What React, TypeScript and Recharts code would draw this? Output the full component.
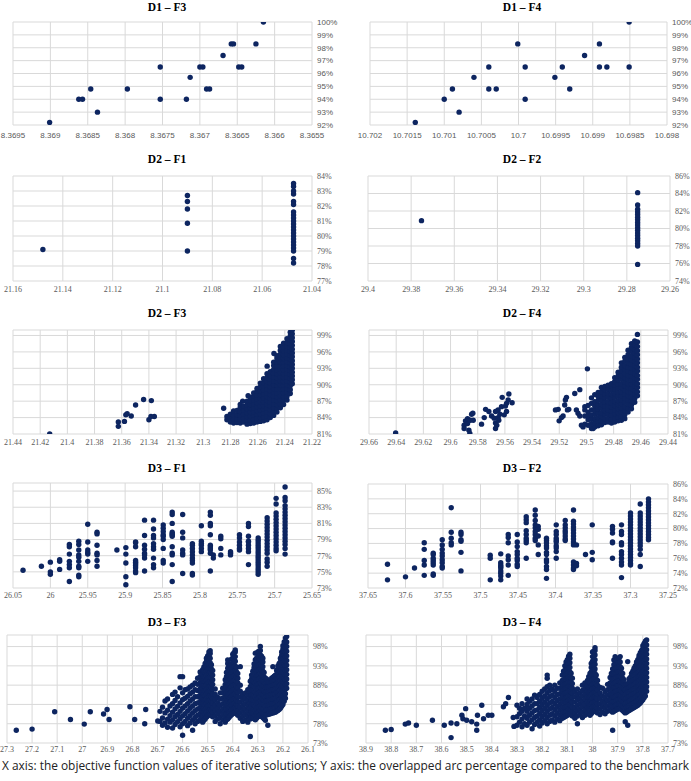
import React from 'react';
import { ScatterChart, Scatter, XAxis, YAxis, CartesianGrid } from 'recharts';

type Pt = [number, number];
type Col = [number, number[]];

// ---- D1 – F3 ----
const d1f3Points: Pt[] = [
  [8.36901, 92.2], [8.36862, 94.0], [8.36857, 94.0], [8.36846, 94.8], [8.36837, 93.0],
  [8.36797, 94.8], [8.36753, 96.5], [8.36753, 94.0], [8.36718, 94.0], [8.36713, 95.7],
  [8.367, 96.5], [8.36696, 96.5], [8.36691, 94.8], [8.36687, 94.8], [8.36669, 97.4],
  [8.36658, 98.3], [8.36655, 98.3], [8.36648, 96.5], [8.36644, 96.5], [8.36625, 98.3],
  [8.36615, 100],
];
const d1f3XTicks = [8.3695, 8.369, 8.3685, 8.368, 8.3675, 8.367, 8.3665, 8.366, 8.3655];
const d1YTicks = [92, 93, 94, 95, 96, 97, 98, 99, 100];

// ---- D1 – F4 ----
const d1f4Points: Pt[] = [
  [10.70139, 92.2], [10.701, 94.0], [10.70089, 94.8], [10.7008, 93.0], [10.7006, 95.7],
  [10.7004, 96.5], [10.7004, 94.8], [10.7003, 94.8], [10.70001, 98.3], [10.69991, 96.5],
  [10.69991, 94.0], [10.69951, 95.7], [10.69941, 96.5], [10.69931, 94.8], [10.69911, 97.4],
  [10.69891, 98.3], [10.69891, 96.5], [10.69881, 96.5], [10.69851, 100], [10.69851, 96.5],
];
const d1f4XTicks = [10.702, 10.7015, 10.701, 10.7005, 10.7, 10.6995, 10.699, 10.6985, 10.698];

// ---- D2 – F1 ----
const d2f1Points: Pt[] = [
  [21.148, 79.1], [21.09, 82.7], [21.09, 82.3], [21.09, 81.8], [21.09, 80.85], [21.09, 79.0],
];
const d2f1Cols: Col[] = [
  [21.0474, [83.5, 83.3, 83.0, 82.8, 82.3, 82.1, 81.6, 81.4, 81.2, 81.0, 80.8, 80.6, 80.4,
    80.2, 80.0, 79.8, 79.6, 79.4, 79.2, 79.0, 78.5, 78.2]],
];
const d2f1XTicks = [21.16, 21.14, 21.12, 21.1, 21.08, 21.06, 21.04];
const d2f1YTicks = [77, 78, 79, 80, 81, 82, 83, 84];

// ---- D2 – F2 ----
const d2f2Points: Pt[] = [[29.3752, 80.9]];
const d2f2Cols: Col[] = [
  [29.275, [84.1, 82.7, 82.2, 81.9, 81.6, 81.3, 81.0, 80.7, 80.4, 80.1, 79.8, 79.5, 79.2,
    78.9, 78.6, 78.3, 78.0, 75.9]],
];
const d2f2XTicks = [29.4, 29.38, 29.36, 29.34, 29.32, 29.3, 29.28, 29.26];
const d2f2YTicks = [74, 76, 78, 80, 82, 84, 86];

// ---- D2 – F3 ----
const d2f3Points: Pt[] = [
  [21.413, 81.0], [21.3625, 83.2], [21.3625, 82.4], [21.358, 83.3], [21.357, 84.5],
  [21.356, 84.7], [21.353, 84.3], [21.3498, 86.3], [21.3439, 87.3], [21.34, 83.6],
  [21.3385, 84.2], [21.3382, 87.1], [21.336, 84.2], [21.285, 85.7], [21.271, 87.0],
  [21.267, 88.0], [21.253, 93.4], [21.248, 95.7],
];
const d2f3Cols: Col[] = [
  [21.2826, [83.6, 84.2]],
  [21.2801, [83.2, 83.9, 84.6]],
  [21.2777, [83.0, 83.7, 84.4, 85.2]],
  [21.2752, [83.1, 83.8, 84.5, 85.3]],
  [21.2728, [83.0, 83.7, 84.4, 85.1, 85.9, 86.4]],
  [21.2703, [83.2, 83.9, 84.6, 85.4, 86.1]],
  [21.2678, [82.8, 83.5, 84.2, 84.9, 85.6, 86.3, 87.0]],
  [21.2654, [82.9, 83.6, 84.3, 85.0, 85.7, 86.4, 87.1, 87.7]],
  [21.2629, [83.0, 83.7, 84.4, 85.1, 85.8, 86.5, 87.2, 87.9, 88.5]],
  [21.2605, [83.2, 83.9, 84.6, 85.3, 86.0, 86.7, 87.4, 88.1, 88.8, 89.3]],
  [21.258, [83.3, 84.0, 84.7, 85.4, 86.1, 86.8, 87.5, 88.2, 88.9, 89.6, 90.3]],
  [21.2556, [83.4, 84.1, 84.8, 85.5, 86.2, 86.9, 87.6, 88.3, 89.0, 89.7, 90.4, 91.1]],
  [21.2531, [83.6, 84.3, 85.0, 85.7, 86.4, 87.1, 87.8, 88.5, 89.2, 89.9, 90.6, 91.3, 92.0]],
  [21.2507, [84.0, 84.7, 85.4, 86.1, 86.8, 87.5, 88.2, 88.9, 89.6, 90.3, 91.0, 91.7, 92.4]],
  [21.2482, [84.4, 85.1, 85.8, 86.5, 87.2, 87.9, 88.6, 89.3, 90.0, 90.7, 91.4, 92.1, 92.8, 93.5, 94.1]],
  [21.2458, [85.0, 85.7, 86.4, 87.1, 87.8, 88.5, 89.2, 89.9, 90.6, 91.3, 92.0, 92.7, 93.4, 94.1, 94.8, 95.3]],
  [21.2433, [85.8, 86.5, 87.2, 87.9, 88.6, 89.3, 90.0, 90.7, 91.4, 92.1, 92.8, 93.5, 94.2, 94.9, 95.6, 96.3, 97.0]],
  [21.2409, [86.4, 87.1, 87.8, 88.5, 89.2, 89.9, 90.6, 91.3, 92.0, 92.7, 93.4, 94.1, 94.8, 95.5, 96.2, 96.9, 97.6]],
  [21.2384, [87.2, 87.9, 88.6, 89.3, 90.0, 90.7, 91.4, 92.1, 92.8, 93.5, 94.2, 94.9, 95.6, 96.3, 97.0, 97.7, 98.4]],
  [21.236, [88.4, 89.1, 89.8, 90.5, 91.2, 91.9, 92.6, 93.3, 94.0, 94.7, 95.4, 96.1, 96.8, 97.5, 98.2, 98.9, 99.6]],
  [21.2345, [90.2, 90.9, 91.6, 92.3, 93.0, 93.7, 94.4, 95.1, 95.8, 96.5, 97.2, 97.9, 98.6, 99.3, 100.0]],
];
const d2f3XTicks = [21.44, 21.42, 21.4, 21.38, 21.36, 21.34, 21.32, 21.3, 21.28, 21.26, 21.24, 21.22];
const d2YTicks = [81, 84, 87, 90, 93, 96, 99];

// ---- D2 – F4 ----
const d2f4Points: Pt[] = [
  [29.6404, 81.2],
  [29.59, 82.6], [29.59, 82.0], [29.589, 83.4], [29.5875, 82.9], [29.5875, 83.8], [29.5865, 81.7],
  [29.5858, 81.1], [29.5855, 83.5], [29.5845, 84.6], [29.5833, 83.5], [29.5836, 84.8],
  [29.5772, 82.8], [29.5752, 84.0], [29.5742, 85.5], [29.5718, 85.1], [29.5698, 84.3],
  [29.5679, 83.9], [29.5669, 83.0], [29.5669, 82.0], [29.566, 82.6], [29.5669, 85.1],
  [29.565, 85.4], [29.565, 84.0], [29.5637, 84.6], [29.5625, 86.0], [29.562, 87.7],
  [29.5605, 84.5], [29.5596, 86.1], [29.5588, 86.6], [29.5588, 85.1], [29.5576, 87.2],
  [29.5571, 88.3], [29.5547, 86.7], [29.5645, 83.5],
  [29.5228, 85.4], [29.5208, 85.5], [29.5201, 83.4], [29.5184, 84.0], [29.5172, 84.3],
  [29.516, 86.3], [29.5155, 87.2], [29.5147, 87.7], [29.514, 85.4], [29.513, 85.5],
  [29.5086, 88.4], [29.5074, 85.4], [29.5062, 84.8], [29.5049, 89.1], [29.5049, 84.3],
  [29.5037, 82.6], [29.5025, 82.3], [29.4993, 92.9], [29.4951, 82.0],
];
const d2f4Cols: Col[] = [
  [29.5012, [82.8, 84.3, 85.4, 86.0]],
  [29.4988, [82.6, 83.6, 84.2, 85.0, 86.2]],
  [29.4963, [82.0, 82.9, 83.7, 84.5, 85.4, 86.6, 87.6]],
  [29.4939, [82.3, 83.0, 83.8, 84.6, 85.3, 86.1, 86.9, 88.2]],
  [29.4914, [82.5, 83.3, 84.0, 84.8, 85.5, 86.3, 87.1, 87.8, 88.6]],
  [29.489, [82.7, 83.4, 84.2, 84.9, 85.7, 86.4, 87.2, 87.9, 88.7, 89.5]],
  [29.4865, [83.1, 83.8, 84.6, 85.3, 86.1, 86.8, 87.6, 88.3, 89.1, 89.7]],
  [29.4841, [83.2, 83.9, 84.7, 85.4, 86.2, 86.9, 87.7, 88.4, 89.2, 89.9]],
  [29.4816, [83.0, 83.7, 84.5, 85.2, 86.0, 86.7, 87.5, 88.2, 89.0, 89.7, 90.2]],
  [29.4792, [83.2, 83.9, 84.7, 85.4, 86.2, 86.9, 87.7, 88.4, 89.2, 89.9, 90.6, 91.3]],
  [29.4767, [83.4, 84.1, 84.9, 85.6, 86.4, 87.1, 87.9, 88.6, 89.4, 90.1, 90.9, 91.6, 92.3]],
  [29.4743, [83.5, 84.2, 85.0, 85.7, 86.5, 87.2, 88.0, 88.7, 89.5, 90.2, 91.0, 91.7, 92.5, 93.2, 94.0]],
  [29.4718, [83.8, 84.5, 85.3, 86.0, 86.8, 87.5, 88.3, 89.0, 89.8, 90.5, 91.3, 92.0, 92.8, 93.5, 94.3, 95.0]],
  [29.4694, [85.0, 85.7, 86.5, 87.2, 88.0, 88.7, 89.5, 90.2, 91.0, 91.7, 92.5, 93.2, 94.0, 94.7, 95.5, 96.3]],
  [29.4669, [85.6, 86.3, 87.1, 87.8, 88.6, 89.3, 90.1, 90.8, 91.6, 92.3, 93.1, 93.8, 94.6, 95.3, 96.1, 96.8, 97.5]],
  [29.4645, [86.8, 87.5, 88.3, 89.0, 89.8, 90.5, 91.3, 92.0, 92.8, 93.5, 94.3, 95.0, 95.8, 96.5, 97.3, 98.0]],
  [29.4625, [88.0, 88.7, 89.5, 90.2, 91.0, 91.7, 92.5, 93.2, 94.0, 94.7, 95.5, 96.2, 97.0, 97.8, 99.2]],
];
const d2f4XTicks = [29.66, 29.64, 29.62, 29.6, 29.58, 29.56, 29.54, 29.52, 29.5, 29.48, 29.46, 29.44];

// ---- D3 – F1 ----
const d3f1Cols: Col[] = [
  [26.0366, [75.2]],
  [26.012, [75.7]],
  [26.0, [76.2, 75.0, 74.7]],
  [25.9876, [76.5, 76.3, 75.3]],
  [25.9746, [78.4, 78.1, 77.2, 76.3, 75.9, 75.5, 73.8]],
  [25.962, [78.8, 78.4, 77.7, 77.1, 76.8, 76.3, 75.7, 75.5, 74.6, 74.4]],
  [25.95, [80.9, 78.7, 77.7, 77.4, 77.2, 76.3]],
  [25.9376, [79.9, 79.7, 78.3, 77.3, 77.1, 76.4, 75.7]],
  [25.911, [77.7]],
  [25.899, [78.0, 77.2, 76.1, 74.4, 73.4]],
  [25.886, [78.7, 78.6, 78.1, 76.4, 76.2, 76.0, 75.8, 75.5, 75.1, 74.9]],
  [25.874, [81.4, 79.5, 78.3, 77.8, 77.3, 77.1, 76.7, 75.1]],
  [25.862, [81.4, 80.3, 79.5, 79.2, 78.5, 78.1, 77.8, 76.7, 75.9, 75.5]],
  [25.849, [80.8, 80.4, 80.0, 79.6, 79.4, 79.0, 77.9, 76.4, 76.1]],
  [25.837, [82.4, 82.1, 81.0, 79.9, 79.7, 79.6, 79.4, 78.1, 77.3, 77.1, 75.9, 73.8]],
  [25.823, [82.1, 79.9, 79.2, 77.7, 77.3, 77.1, 74.8]],
  [25.81, [78.5, 78.3, 77.9, 77.5, 77.1, 76.7, 76.4, 76.1, 74.8, 74.6]],
  [25.798, [80.7, 78.8, 78.5, 78.3, 77.9, 77.5]],
  [25.786, [82.4, 82.0, 81.0, 80.7, 79.6, 78.3, 78.1, 77.9, 77.7, 77.3, 75.1]],
  [25.782, [77.1, 76.7]],
  [25.772, [79.4, 79.1, 77.9, 77.1]],
  [25.759, [77.5, 77.3, 77.1]],
  [25.747, [79.6, 79.2, 78.7, 78.3, 77.9, 77.7]],
  [25.735, [81.0, 80.6, 79.4, 78.8, 78.7, 78.3, 77.9, 77.5, 75.9]],
  [25.722, [79.2, 78.9, 78.6, 78.3, 78.0, 77.7, 77.4, 77.1, 76.8, 76.5, 76.2, 75.9, 75.6, 75.3, 75.0, 74.7]],
  [25.71, [81.7, 81.3, 80.9, 80.5, 80.1, 79.7, 79.3, 78.9, 78.5, 78.1, 77.7, 77.3, 76.6, 76.2, 75.7]],
  [25.698, [84.1, 83.4, 82.3, 81.9, 81.5, 81.1, 80.7, 80.3, 79.9, 79.5, 79.1, 78.7, 78.3, 77.9, 77.6]],
  [25.686, [85.5, 84.2, 83.8, 83.2, 82.8, 82.4, 82.0, 81.6, 81.2, 80.8, 80.4, 80.0, 79.6, 79.2,
    78.8, 78.4, 77.9, 77.2]],
];
const d3f1XTicks = [26.05, 26, 25.95, 25.9, 25.85, 25.8, 25.75, 25.7, 25.65];
const d3f1YTicks = [73, 75, 77, 79, 81, 83, 85];

// ---- D3 – F2 ----
const d3f2Cols: Col[] = [
  [37.624, [75.2, 73.1]],
  [37.6, [73.5]],
  [37.588, [74.7]],
  [37.575, [78.1, 77.2, 75.7, 75.1, 73.7]],
  [37.563, [76.7, 76.5, 76.0, 75.7, 75.4, 75.1, 73.9, 73.7]],
  [37.551, [78.5, 77.8, 77.2, 76.7, 76.3, 75.8, 75.4, 74.9, 74.7]],
  [37.539, [82.8, 79.5, 78.7, 78.1, 77.8]],
  [37.526, [79.5, 79.2, 78.5, 78.3, 76.8, 74.3]],
  [37.487, [76.4, 76.0, 73.1]],
  [37.473, [76.6, 75.4, 75.1, 74.9, 74.7, 74.3, 74.0, 73.6, 73.1]],
  [37.463, [79.2, 78.8, 78.1, 76.3, 75.8, 75.1, 73.7]],
  [37.451, [79.2, 78.2, 77.6, 76.9, 76.5, 76.0, 75.7, 75.2, 74.9]],
  [37.439, [81.6, 81.2, 80.8, 79.7, 79.2, 78.7, 78.4, 78.1, 76.0]],
  [37.427, [82.5, 81.8, 81.1, 80.5, 80.1, 79.6, 79.2, 78.7, 78.4]],
  [37.423, [80.3, 79.9, 79.0, 77.8, 76.5]],
  [37.412, [78.7, 78.4, 78.1, 77.7, 77.4, 76.8, 76.5, 75.8, 75.5, 74.9, 74.5, 73.3]],
  [37.399, [80.5, 79.6, 79.2, 78.7, 78.4, 78.2, 77.7, 77.4, 76.9, 76.0]],
  [37.387, [81.1, 80.5, 80.1, 79.7, 79.4, 79.0, 78.6, 78.4]],
  [37.376, [82.5, 81.0, 80.6, 80.2, 79.8, 79.4, 79.0, 78.6, 78.2, 77.8, 75.5, 75.1, 74.7, 74.5]],
  [37.372, [77.8, 75.3, 75.0]],
  [37.36, [76.5]],
  [37.351, [80.5, 76.8, 75.8]],
  [37.324, [80.3, 79.9, 79.4, 78.2, 78.1, 76.0]],
  [37.312, [80.5, 79.6, 79.2, 78.1, 77.8, 76.9, 76.5, 76.0, 75.5, 75.1, 73.4]],
  [37.3, [82.1, 81.7, 81.3, 80.9, 80.5, 80.1, 79.7, 79.3, 78.9, 78.5, 78.1, 77.7, 77.3, 76.9,
    76.5, 76.1, 75.7, 75.3, 75.1]],
  [37.287, [83.3, 82.1, 81.7, 81.3, 80.9, 80.5, 80.1, 79.7, 79.3, 78.9, 78.5, 78.1, 77.7, 77.2,
    76.5, 74.9]],
  [37.276, [84.0, 83.6, 83.2, 82.8, 82.4, 82.0, 81.6, 81.2, 80.8, 80.4, 80.0, 79.6, 79.2, 78.8, 78.5]],
];
const d3f2XTicks = [37.65, 37.6, 37.55, 37.5, 37.45, 37.4, 37.35, 37.3, 37.25];
const d3f2YTicks = [72, 74, 76, 78, 80, 82, 84, 86];

// ---- D3 – F3 ----
const d3f3Points: Pt[] = [
  [27.263, 76.3], [27.2, 76.6], [27.11, 81.1], [27.047, 79.1], [26.992, 77.9], [26.968, 81.1],
  [26.915, 80.5], [26.901, 81.7], [26.893, 79.1], [26.81, 82.4], [26.791, 79.1], [26.751, 78.0],
  [26.747, 81.7], [26.699, 78.7],
];
const d3f3Cols: Col[] = [
  [26.69, [78.6, 81.2]],
  [26.68, [77.6, 79.5, 82.3]],
  [26.67, [78.2, 80.8, 83.9]],
  [26.66, [77.1, 79.2, 81.5, 84.4]],
  [26.65, [78.4, 80.1, 82.6]],
  [26.64, [76.9, 79.0, 81.0, 83.2, 85.6]],
  [26.63, [77.8, 79.8, 81.8, 84.0, 86.2]],
  [26.62, [78.5, 80.4, 82.5, 85.0]],
  [26.61, [77.2, 79.3, 81.2, 83.4, 87.3, 90.2]],
  [26.6, [75.0, 78.0, 80.0, 82.0, 84.2, 86.0, 90.2]],
  [26.59, [78.6, 80.6, 82.6, 84.6, 86.8]],
  [26.58, [77.5, 79.4, 81.3, 83.2, 85.1, 87.0]],
  [26.57, [78.2, 80.1, 82.0, 83.9, 85.8, 87.5]],
  [26.56, [76.3, 79.0, 80.8, 82.6, 84.4, 86.2, 88.0]],
  [26.55, [78.0, 79.6, 81.4, 83.2, 85.0, 86.8, 88.6]],
  [26.54, [78.6, 80.2, 81.8, 83.4, 85.0, 86.6, 88.2, 89.8]],
  [26.53, [79.0, 80.6, 82.2, 83.8, 85.4, 87.0, 88.6, 90.2, 91.4]],
  [26.525, [79.6, 81.4, 83.0, 84.6, 86.2, 87.8, 89.4, 90.8]],
  [26.52, [78.4, 80.0, 81.2, 82.4, 83.6, 84.8, 86.0, 87.2, 88.4, 89.6, 90.8, 92.0]],
  [26.515, [78.9, 80.9, 82.1, 83.1, 84.3, 85.5, 86.7, 87.9, 89.1, 90.3, 91.5, 92.7]],
  [26.51, [79.2, 80.4, 81.6, 82.8, 84.0, 85.2, 86.4, 87.6, 88.8, 90.0, 91.2, 92.4, 93.6]],
  [26.505, [79.7, 81.0, 82.1, 83.3, 84.5, 85.7, 86.9, 88.1, 89.3, 90.5, 91.7, 92.9, 94.1, 95.0]],
  [26.5, [80.0, 81.2, 82.4, 83.6, 84.8, 86.0, 87.2, 88.4, 89.6, 90.8, 92.0, 93.2, 94.4, 95.6]],
  [26.495, [80.3, 81.5, 82.7, 83.9, 85.1, 86.3, 87.5, 88.7, 89.9, 91.1, 92.3, 93.5, 94.7, 95.9, 96.6]],
  [26.49, [80.6, 81.8, 83.0, 84.2, 85.4, 86.6, 87.8, 89.0, 90.2, 91.4, 92.6, 93.8, 95.0, 96.2, 96.9]],
  [26.485, [80.2, 81.4, 82.6, 83.8, 85.0, 86.2, 87.4, 88.6, 89.8, 91.0, 92.2, 93.3]],
  [26.48, [79.8, 81.0, 82.2, 83.4, 84.6, 85.8, 87.0, 88.2, 89.4, 90.6, 91.8]],
  [26.47, [78.6, 80.0, 81.4, 82.8, 84.2, 85.6, 87.0]],
  [26.46, [79.2, 80.6, 82.0, 83.4, 84.8]],
  [26.45, [78.0, 79.6, 81.2, 82.8, 84.4, 86.0]],
  [26.44, [79.0, 80.4, 81.8, 83.2, 84.6, 86.0, 87.2]],
  [26.43, [78.4, 79.8, 81.2, 82.6, 84.0, 85.4, 86.8, 88.2, 89.4]],
  [26.425, [79.0, 80.5, 81.9, 83.3, 84.7, 86.1, 87.5, 88.9, 90.2, 91.3]],
  [26.42, [79.2, 80.4, 81.6, 82.8, 84.0, 85.2, 86.4, 87.6, 88.8, 90.0, 91.2, 92.4, 93.6, 94.5]],
  [26.415, [79.6, 80.9, 82.1, 83.3, 84.5, 85.7, 86.9, 88.1, 89.3, 90.5, 91.7, 92.9]],
  [26.41, [80.0, 81.2, 82.4, 83.6, 84.8, 86.0, 87.2, 88.4, 89.6, 90.8, 92.0, 93.0]],
  [26.405, [80.3, 81.5, 82.7, 83.9, 85.1, 86.3, 87.5, 88.7, 89.9, 91.1, 92.3, 93.5, 94.7]],
  [26.4, [80.6, 81.8, 83.0, 84.2, 85.4, 86.6, 87.8, 89.0, 90.2, 91.4, 92.6, 93.8, 95.0, 96.0]],
  [26.395, [80.8, 82.0, 83.2, 84.4, 85.6, 86.8, 88.0, 89.2, 90.4, 91.6, 92.8, 94.0, 95.2, 96.4]],
  [26.39, [81.0, 82.2, 83.4, 84.6, 85.8, 87.0, 88.2, 89.4, 90.6, 91.8, 93.0, 94.2, 95.4, 96.6, 97.1]],
  [26.385, [80.6, 81.8, 83.0, 84.2, 85.4, 86.6, 87.8, 89.0, 90.2, 91.4, 92.6]],
  [26.38, [80.2, 81.4, 82.6, 83.8, 85.0, 86.2, 87.4, 88.6, 89.8, 91.0]],
  [26.37, [79.4, 80.8, 82.2, 83.6, 85.0, 86.4, 88.0, 92.8]],
  [26.36, [78.6, 80.0, 81.4, 82.8, 84.2, 85.6]],
  [26.35, [79.0, 80.4, 81.8, 83.2, 84.6, 86.0]],
  [26.34, [78.4, 79.8, 81.2, 82.6, 84.0, 85.4, 86.8]],
  [26.33, [74.7, 79.2, 80.6, 82.0, 83.4, 84.8, 86.2, 87.6, 89.0]],
  [26.325, [79.8, 81.2, 82.6, 84.0, 85.4, 86.8, 88.2, 89.6, 90.6]],
  [26.32, [79.6, 80.8, 82.0, 83.2, 84.4, 85.6, 86.8, 88.0, 89.2, 90.4, 91.6]],
  [26.315, [79.3, 80.5, 81.7, 82.9, 84.1, 85.3, 86.5, 87.7, 88.9, 90.1, 91.3, 92.5, 93.5]],
  [26.31, [79.0, 80.2, 81.4, 82.6, 83.8, 85.0, 86.2, 87.4, 88.6, 89.8, 91.0, 92.2, 93.4, 94.6, 96.3]],
  [26.305, [79.4, 80.6, 81.8, 83.0, 84.2, 85.4, 86.6, 87.8, 89.0, 90.2, 91.4, 92.6, 93.8, 95.0]],
  [26.3, [79.8, 81.0, 82.2, 83.4, 84.6, 85.8, 87.0, 88.2, 89.4, 90.6, 91.8, 93.0, 94.2, 95.4, 96.6]],
  [26.295, [80.0, 81.2, 82.4, 83.6, 84.8, 86.0, 87.2, 88.4, 89.6, 90.8, 92.0, 93.2, 94.4, 95.6, 96.8]],
  [26.29, [80.2, 81.4, 82.6, 83.8, 85.0, 86.2, 87.4, 88.6, 89.8, 91.0, 92.2, 93.4, 94.6, 95.8, 97.0, 98.0]],
  [26.285, [79.9, 81.1, 82.3, 83.5, 84.7, 85.9, 87.1, 88.3, 89.5, 90.7, 91.9, 93.1, 94.3, 95.5]],
  [26.28, [79.6, 80.8, 82.0, 83.2, 84.4, 85.6, 86.8, 88.0, 89.2, 90.4, 91.6, 92.8, 94.0, 95.0]],
  [26.275, [79.3, 80.5, 81.7, 82.9, 84.1, 85.3, 86.5, 87.7, 88.9, 90.1, 91.3]],
  [26.27, [78.9, 80.2, 81.4, 82.6, 83.8, 85.0, 86.2, 87.4, 88.6, 89.8]],
  [26.265, [80.3, 81.5, 82.7, 83.9, 85.1, 86.3, 87.5, 88.7, 89.6]],
  [26.26, [77.6, 80.4, 81.6, 82.8, 84.0, 85.2, 86.4, 87.6, 88.8]],
  [26.255, [80.5, 81.7, 82.9, 84.1, 85.3, 86.5, 87.7, 88.9]],
  [26.25, [80.6, 81.8, 83.0, 84.2, 85.4, 86.6, 87.8, 89.0]],
  [26.245, [80.7, 81.9, 83.1, 84.3, 85.5, 86.7, 87.9, 89.1, 89.8]],
  [26.24, [80.8, 82.0, 83.2, 84.4, 85.6, 86.8, 88.0, 89.2, 90.0, 92.8]],
  [26.235, [80.9, 82.1, 83.3, 84.5, 85.7, 86.9, 88.1, 89.3, 90.3]],
  [26.23, [81.0, 82.2, 83.4, 84.6, 85.8, 87.0, 88.2, 89.4, 90.6]],
  [26.225, [81.2, 82.4, 83.6, 84.8, 86.0, 87.2, 88.4, 89.6, 90.8, 91.8]],
  [26.22, [81.4, 82.6, 83.8, 85.0, 86.2, 87.4, 88.6, 89.8, 91.0, 92.2, 93.0]],
  [26.215, [81.7, 82.9, 84.1, 85.3, 86.5, 87.7, 88.9, 90.1, 91.3, 92.5, 93.6]],
  [26.21, [82.0, 83.2, 84.4, 85.6, 86.8, 88.0, 89.2, 90.4, 91.6, 92.8, 94.0, 95.0]],
  [26.205, [82.5, 83.7, 84.9, 86.1, 87.3, 88.5, 89.7, 90.9, 92.1, 93.3, 94.5, 95.7, 96.6]],
  [26.2, [83.0, 84.2, 85.4, 86.6, 87.8, 89.0, 90.2, 91.4, 92.6, 93.8, 95.0, 96.2, 97.4, 98.2]],
  [26.195, [83.8, 85.0, 86.2, 87.4, 88.6, 89.8, 91.0, 92.2, 93.4, 94.6, 95.8, 97.0, 98.2, 99.2]],
  [26.19, [84.6, 85.8, 87.0, 88.2, 89.4, 90.6, 91.8, 93.0, 94.2, 95.4, 96.6, 97.8, 99.0, 100.2]],
  [26.185, [87.2, 88.4, 89.6, 90.8, 92.0, 93.2, 94.4, 95.6, 96.8, 98.0, 99.2, 100.6]],
];
const d3f3XTicks = [27.3, 27.2, 27.1, 27, 26.9, 26.8, 26.7, 26.6, 26.5, 26.4, 26.3, 26.2, 26.1];
const d3YTicks = [73, 78, 83, 88, 93, 98];

// ---- D3 – F4 ----
const d3f4Points: Pt[] = [
  [38.823, 76.3], [38.8, 76.5], [38.744, 77.9], [38.731, 78.2], [38.7, 77.6], [38.636, 78.9],
  [38.589, 77.6], [38.562, 78.2], [38.562, 74.4], [38.539, 78.0], [38.519, 80.2], [38.515, 79.3],
  [38.504, 81.9], [38.5, 78.9], [38.48, 78.5], [38.46, 76.3], [38.46, 77.9], [38.457, 80.2],
  [38.44, 82.8], [38.433, 79.3], [38.414, 80.2], [38.4, 80.2], [38.354, 82.4], [38.345, 83.2],
  [38.334, 84.8], [38.315, 79.6], [38.312, 77.3],
];
const d3f4Cols: Col[] = [
  [38.3, [77.6, 79.8, 82.8]],
  [38.29, [78.4, 80.6, 82.0]],
  [38.28, [77.2, 79.2, 81.2, 83.2]],
  [38.27, [78.0, 80.0, 82.0]],
  [38.26, [77.6, 79.4, 81.2, 83.0, 84.4]],
  [38.25, [78.4, 80.2, 82.0, 83.8]],
  [38.24, [76.7, 79.0, 80.8, 82.6, 84.4]],
  [38.23, [77.8, 79.6, 81.4, 83.2, 85.4]],
  [38.22, [78.4, 80.0, 81.6, 83.2, 84.8]],
  [38.21, [77.4, 79.0, 80.6, 82.2, 83.8, 85.6]],
  [38.2, [78.2, 79.8, 81.4, 83.0, 84.6, 86.4]],
  [38.19, [78.8, 80.4, 82.0, 83.6, 85.2, 87.0]],
  [38.18, [78.0, 79.6, 81.2, 82.8, 84.4, 86.0, 87.6, 89.8, 90.6]],
  [38.17, [78.6, 80.2, 81.8, 83.4, 85.0, 86.6, 88.0]],
  [38.16, [79.0, 80.6, 82.2, 83.8, 85.4, 87.0]],
  [38.15, [78.4, 80.0, 81.6, 83.2, 84.8, 86.4, 88.0]],
  [38.14, [79.2, 80.8, 82.4, 84.0, 85.6, 87.2]],
  [38.13, [78.8, 80.2, 81.6, 83.0, 84.4, 85.8, 87.2, 88.6]],
  [38.12, [79.4, 80.8, 82.2, 83.6, 85.0, 86.4, 87.8, 89.2, 90.6]],
  [38.115, [79.6, 81.0, 82.4, 83.8, 85.2, 86.6, 88.0, 89.4, 90.8, 91.6]],
  [38.11, [79.8, 81.0, 82.2, 83.4, 84.6, 85.8, 87.0, 88.2, 89.4, 90.6, 91.8, 93.0]],
  [38.105, [80.0, 81.2, 82.4, 83.6, 84.8, 86.0, 87.2, 88.4, 89.6, 90.8, 92.0, 93.2, 94.0]],
  [38.1, [80.2, 81.4, 82.6, 83.8, 85.0, 86.2, 87.4, 88.6, 89.8, 91.0, 92.2, 93.4, 94.6]],
  [38.095, [80.4, 81.6, 82.8, 84.0, 85.2, 86.4, 87.6, 88.8, 90.0, 91.2, 92.4, 93.6, 94.8, 95.5]],
  [38.09, [80.6, 81.8, 83.0, 84.2, 85.4, 86.6, 87.8, 89.0, 90.2, 91.4, 92.6, 93.8, 95.0, 96.0]],
  [38.085, [80.3, 81.5, 82.7, 83.9, 85.1, 86.3, 87.5, 88.7, 89.9, 91.1]],
  [38.08, [80.0, 81.2, 82.4, 83.6, 84.8, 86.0, 87.2, 88.4, 89.8]],
  [38.07, [79.4, 80.8, 82.2, 83.6, 85.0, 86.4]],
  [38.06, [78.0, 80.0, 81.4, 82.8, 84.2, 85.6, 87.0]],
  [38.05, [80.4, 81.8, 83.2, 84.6, 86.0]],
  [38.04, [79.6, 81.0, 82.4, 83.8, 85.2, 86.6, 88.0]],
  [38.03, [80.2, 81.6, 83.0, 84.4, 85.8, 87.2, 88.6]],
  [38.02, [80.8, 82.2, 83.6, 85.0, 86.4, 87.8, 89.2]],
  [38.015, [80.5, 81.9, 83.3, 84.7, 86.1, 87.5, 88.9, 90.2]],
  [38.01, [80.2, 81.4, 82.6, 83.8, 85.0, 86.2, 87.4, 88.6, 89.8, 91.0]],
  [38.005, [80.6, 81.8, 83.0, 84.2, 85.4, 86.6, 87.8, 89.0, 90.2, 91.4, 92.6, 93.6]],
  [38.0, [81.0, 82.2, 83.4, 84.6, 85.8, 87.0, 88.2, 89.4, 90.6, 91.8, 93.0, 94.2, 95.4, 96.6]],
  [37.995, [81.2, 82.4, 83.6, 84.8, 86.0, 87.2, 88.4, 89.6, 90.8, 92.0, 93.2, 94.4, 95.6, 96.8]],
  [37.99, [81.4, 82.6, 83.8, 85.0, 86.2, 87.4, 88.6, 89.8, 91.0, 92.2, 93.4, 94.6, 95.8, 97.0, 97.7]],
  [37.985, [81.1, 82.3, 83.5, 84.7, 85.9, 87.1, 88.3, 89.5, 90.6]],
  [37.98, [80.8, 82.0, 83.2, 84.4, 85.6, 86.8, 88.0, 89.2]],
  [37.97, [80.4, 81.8, 83.2, 84.6, 86.0, 87.4]],
  [37.96, [81.0, 82.4, 83.8, 85.2, 87.2]],
  [37.95, [80.6, 82.0, 83.4, 84.8, 86.2]],
  [37.94, [81.2, 82.6, 84.0, 85.4, 86.8, 88.2]],
  [37.93, [81.6, 83.0, 84.4, 85.8, 87.2, 88.6, 90.0]],
  [37.925, [81.3, 82.7, 84.1, 85.5, 86.9, 88.3, 89.7, 91.0]],
  [37.92, [76.3, 81.0, 82.4, 83.8, 85.2, 86.6, 88.0, 89.4, 90.8, 92.2]],
  [37.915, [81.2, 82.5, 83.7, 84.9, 86.1, 87.3, 88.5, 89.7, 90.9, 92.1, 93.3, 94.5]],
  [37.91, [81.4, 82.6, 83.8, 85.0, 86.2, 87.4, 88.6, 89.8, 91.0, 92.2, 93.4, 94.6, 95.4]],
  [37.905, [81.6, 82.8, 84.0, 85.2, 86.4, 87.6, 88.8, 90.0, 91.2, 92.4, 93.6, 94.6]],
  [37.9, [81.8, 83.0, 84.2, 85.4, 86.6, 87.8, 89.0, 90.2, 91.4, 92.6, 93.8]],
  [37.895, [81.9, 83.1, 84.3, 85.5, 86.7, 87.9, 89.1, 90.3, 91.5, 92.7, 93.9, 95.0]],
  [37.89, [82.0, 83.2, 84.4, 85.6, 86.8, 88.0, 89.2, 90.4, 91.6, 92.8, 94.0, 95.4]],
  [37.885, [81.7, 82.9, 84.1, 85.3, 86.5, 87.7, 88.9, 90.1, 91.3, 92.4]],
  [37.88, [81.4, 82.6, 83.8, 85.0, 86.2, 87.4, 88.6, 89.8, 91.0]],
  [37.875, [81.1, 82.3, 83.5, 84.7, 85.9, 87.1, 88.3, 89.4]],
  [37.87, [78.5, 80.8, 82.0, 83.2, 84.4, 85.6, 86.8, 88.0]],
  [37.865, [81.0, 82.2, 83.4, 84.6, 85.8, 87.0, 88.2]],
  [37.86, [77.6, 81.2, 82.4, 83.6, 84.8, 86.0, 87.2, 88.4, 94.1]],
  [37.855, [81.4, 82.6, 83.8, 85.0, 86.2, 87.4, 88.6, 89.6]],
  [37.85, [81.6, 82.8, 84.0, 85.2, 86.4, 87.6, 88.8, 90.0]],
  [37.845, [81.8, 83.0, 84.2, 85.4, 86.6, 87.8, 89.0, 90.2, 91.0]],
  [37.84, [82.0, 83.2, 84.4, 85.6, 86.8, 88.0, 89.2, 90.4, 91.6]],
  [37.835, [82.2, 83.4, 84.6, 85.8, 87.0, 88.2, 89.4, 90.6, 91.8, 92.4]],
  [37.83, [82.4, 83.6, 84.8, 86.0, 87.2, 88.4, 89.6, 90.8, 92.0, 93.0]],
  [37.825, [82.6, 83.8, 85.0, 86.2, 87.4, 88.6, 89.8, 91.0, 92.2, 93.4, 94.0]],
  [37.82, [82.8, 84.0, 85.2, 86.4, 87.6, 88.8, 90.0, 91.2, 92.4, 93.6, 94.6]],
  [37.815, [83.1, 84.3, 85.5, 86.7, 87.9, 89.1, 90.3, 91.5, 92.7, 93.9, 95.1, 95.7]],
  [37.81, [83.4, 84.6, 85.8, 87.0, 88.2, 89.4, 90.6, 91.8, 93.0, 94.2, 95.4, 96.4]],
  [37.805, [83.8, 85.0, 86.2, 87.4, 88.6, 89.8, 91.0, 92.2, 93.4, 94.6, 95.8, 97.0]],
  [37.8, [84.2, 85.4, 86.6, 87.8, 89.0, 90.2, 91.4, 92.6, 93.8, 95.0, 96.2, 97.4, 98.2]],
  [37.795, [84.7, 85.9, 87.1, 88.3, 89.5, 90.7, 91.9, 93.1, 94.3, 95.5, 96.7, 97.9, 98.8]],
  [37.79, [85.2, 86.4, 87.6, 88.8, 90.0, 91.2, 92.4, 93.6, 94.8, 96.0, 97.2, 98.4, 99.4]],
  [37.785, [86.4, 87.6, 88.8, 90.0, 91.2, 92.4, 93.6, 94.8, 96.0, 97.2, 98.4, 99.7]],
];
const d3f4XTicks = [38.9, 38.8, 38.7, 38.6, 38.5, 38.4, 38.3, 38.2, 38.1, 38, 37.9, 37.8, 37.7];

const caption =
  'X axis: the objective function values of iterative solutions; Y axis: the overlapped arc percentage compared to the benchmark';

const DOT = '#0d2560';
const GRID = '#d9d9d9';
const LABEL = '#595959';
const SERIF = '"Liberation Serif", "Times New Roman", serif';
const NARROW = '"Liberation Sans Narrow", "Liberation Sans", Arial, sans-serif';

const toData = (pts: Pt[] = [], cols: Col[] = []) => [
  ...pts.map(([x, y]) => ({ x, y })),
  ...cols.flatMap(([x, ys]) => ys.map((y) => ({ x, y }))),
];

const fmtX = (v: number) => String(parseFloat(v.toFixed(4)));
const fmtY = (v: number) => `${v}%`;

const Dot = (p: any) => <circle cx={p.cx} cy={p.cy} r={2.7} fill={DOT} />;

interface PanelProps {
  title: string;
  data: { x: number; y: number }[];
  xTicks: number[];
  yTicks: number[];
  yDomain: [number, number];
  left: number;
  right: number;
  top: number;
  bottom: number;
  titleY: number;
  titleX: number;
  xGap: number;
  font: string;
  fontSize: number;
}

const Panel = (p: PanelProps) => {
  const ML = 22;
  const MT = 4;
  const YW = 30;
  const XH = 14;
  const w = ML + (p.right - p.left) + YW;
  const h = MT + (p.bottom - p.top) + XH;
  const tick = { fontSize: p.fontSize, fill: LABEL, fontFamily: p.font };
  return (
    <>
      <div
        style={{
          position: 'absolute',
          left: p.titleX - 60,
          width: 120,
          top: p.titleY - 7,
          lineHeight: '14px',
          textAlign: 'center',
          fontFamily: SERIF,
          fontWeight: 'bold',
          fontSize: 11.5,
          color: '#000',
        }}
      >
        {p.title}
      </div>
      <div style={{ position: 'absolute', left: p.left - ML, top: p.top - MT }}>
        <ScatterChart width={w} height={h} margin={{ top: MT, right: 0, bottom: 0, left: ML }}>
          <CartesianGrid stroke={GRID} />
          <XAxis
            type="number"
            dataKey="x"
            domain={[Math.min(...p.xTicks), Math.max(...p.xTicks)]}
            ticks={p.xTicks}
            reversed
            interval={0}
            allowDataOverflow
            height={XH}
            axisLine={false}
            tickLine={false}
            tickSize={p.xGap}
            tickMargin={0}
            tick={tick}
            tickFormatter={fmtX}
          />
          <YAxis
            type="number"
            dataKey="y"
            orientation="right"
            domain={p.yDomain}
            ticks={p.yTicks}
            interval={0}
            allowDataOverflow
            width={YW}
            axisLine={false}
            tickLine={false}
            tickSize={3}
            tickMargin={2}
            tick={tick}
            tickFormatter={fmtY}
          />
          <Scatter data={p.data} isAnimationActive={false} shape={Dot} />
        </ScatterChart>
      </div>
    </>
  );
};

export default function App() {
  const L = 167;
  const R = 522;
  return (
    <div
      style={{
        position: 'absolute',
        left: 0,
        top: 0,
        width: 691,
        height: 781,
        overflow: 'hidden',
        background: '#fff',
      }}
    >
      <Panel title="D1 – F3" data={toData(d1f3Points)} xTicks={d1f3XTicks} yTicks={d1YTicks}
        yDomain={[92, 100]} left={13} right={312} top={22} bottom={125} titleY={7} titleX={L}
        xGap={7} font={NARROW} fontSize={8} />
      <Panel title="D1 – F4" data={toData(d1f4Points)} xTicks={d1f4XTicks} yTicks={d1YTicks}
        yDomain={[92, 100]} left={370} right={667} top={22} bottom={125} titleY={7} titleX={R}
        xGap={7} font={NARROW} fontSize={8} />

      <Panel title="D2 – F1" data={toData(d2f1Points, d2f1Cols)} xTicks={d2f1XTicks}
        yTicks={d2f1YTicks} yDomain={[77, 84]} left={13} right={312} top={176} bottom={281}
        titleY={159} titleX={L} xGap={5} font={SERIF} fontSize={8} />
      <Panel title="D2 – F2" data={toData(d2f2Points, d2f2Cols)} xTicks={d2f2XTicks}
        yTicks={d2f2YTicks} yDomain={[74, 86]} left={368} right={670} top={176} bottom={281}
        titleY={159} titleX={R} xGap={5} font={SERIF} fontSize={8} />

      <Panel title="D2 – F3" data={toData(d2f3Points, d2f3Cols)} xTicks={d2f3XTicks}
        yTicks={d2YTicks} yDomain={[81, 100]} left={13} right={312} top={330} bottom={434}
        titleY={313} titleX={L} xGap={5} font={SERIF} fontSize={8} />
      <Panel title="D2 – F4" data={toData(d2f4Points, d2f4Cols)} xTicks={d2f4XTicks}
        yTicks={d2YTicks} yDomain={[81, 100]} left={369} right={668} top={330} bottom={434}
        titleY={313} titleX={R} xGap={5} font={SERIF} fontSize={8} />

      <Panel title="D3 – F1" data={toData([], d3f1Cols)} xTicks={d3f1XTicks}
        yTicks={d3f1YTicks} yDomain={[73, 86]} left={13} right={312} top={483} bottom={588}
        titleY={468} titleX={L} xGap={4} font={SERIF} fontSize={8} />
      <Panel title="D3 – F2" data={toData([], d3f2Cols)} xTicks={d3f2XTicks}
        yTicks={d3f2YTicks} yDomain={[72, 86]} left={368} right={668} top={484} bottom={588}
        titleY={468} titleX={R} xGap={4} font={SERIF} fontSize={8} />

      <Panel title="D3 – F3" data={toData(d3f3Points, d3f3Cols)} xTicks={d3f3XTicks}
        yTicks={d3YTicks} yDomain={[73, 101]} left={7} right={308} top={635} bottom={743}
        titleY={622} titleX={L} xGap={3} font={SERIF} fontSize={8} />
      <Panel title="D3 – F4" data={toData(d3f4Points, d3f4Cols)} xTicks={d3f4XTicks}
        yTicks={d3YTicks} yDomain={[73, 101]} left={366} right={668} top={635} bottom={743}
        titleY={622} titleX={R} xGap={3} font={SERIF} fontSize={8} />

      <div
        style={{
          position: 'absolute',
          left: 2,
          top: 757,
          width: 689,
          whiteSpace: 'nowrap',
          fontFamily: '"Open Sans", "Noto Sans", sans-serif',
          fontSize: 11.9,
          lineHeight: '16px',
          color: '#222',
        }}
      >
        {caption}
      </div>
    </div>
  );
}
